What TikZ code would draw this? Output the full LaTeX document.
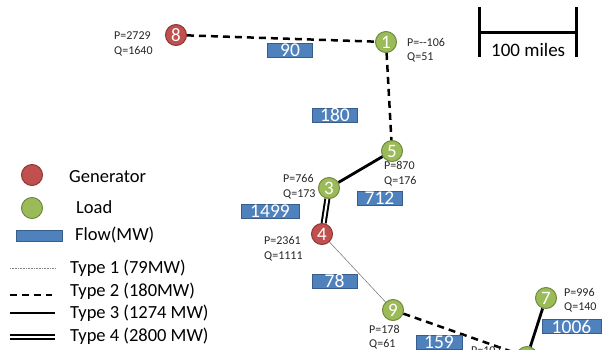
\documentclass[tikz,border=0pt]{standalone}
\usepackage{fontspec}
\setmainfont{Carlito}
\definecolor{genfill}{HTML}{C0504D}
\definecolor{gendraw}{HTML}{8C3836}
\definecolor{loadfill}{HTML}{9BBB59}
\definecolor{loaddraw}{HTML}{71893F}
\definecolor{flowfill}{HTML}{4F81BD}
\definecolor{flowdraw}{HTML}{385D8A}
\tikzset{
  bus/.style={circle, line width=1pt, minimum size=21pt, inner sep=0pt, text=white, font=\fontsize{19}{19}\selectfont},
  gen/.style={bus, fill=genfill, draw=gendraw},
  load/.style={bus, fill=loadfill, draw=loaddraw},
  flow/.style={rectangle, fill=flowfill, draw=flowdraw, line width=0.8pt, text=white, inner sep=0pt, minimum height=14pt, minimum width=#1, font=\fontsize{19.5}{19.5}\selectfont},
  flow/.default=45pt,
  lbl/.style={anchor=base west, inner sep=0pt, font=\fontsize{12}{12}\selectfont, text=black!85},
  leg/.style={anchor=base west, inner sep=0pt, font=\fontsize{18.5}{18.5}\selectfont},
  typeone/.style={draw=gray, line width=0.6pt},
  typetwo/.style={draw=black, line width=2.5pt, dash pattern=on 7pt off 5pt},
  typethree/.style={draw=black, line width=2.8pt},
  typefour/.style={draw=black, line width=2pt, double=white, double distance=2pt},
}
\begin{document}
\begin{tikzpicture}[x=1pt,y=-1pt]
\useasboundingbox (0,0) rectangle (611,349);
\clip (0,0) rectangle (611,349);
% buses
\node[gen] (n8) at (176,35) {8};
\node[load] (n1) at (386,42) {1};
\node[load] (n5) at (392,151) {5};
\node[load] (n3) at (329,188) {3};
\node[gen] (n4) at (322,234) {4};
\node[load] (n9) at (393,310) {9};
\node[load] (n7) at (546,298) {7};
\node[load] (n6) at (527,357) {};
% lines
\draw[typetwo] (n8) -- (n1);
\draw[typetwo] (n1) -- (n5);
\draw[typethree] (n5) -- (n3);
\draw[typefour] (n3) -- (n4);
\draw[typeone] (n4) -- (n9);
\draw[typetwo] (n9) -- (n6);
\draw[typethree] (n7) -- (n6);
% flows
\node[flow] (f90) at (290,50) {90};
\node[flow] (f180) at (335,115) {180};
\node[flow] (f712) at (379.5,198.5) {712};
\node[flow=58pt] (f1499) at (270,211) {1499};
\node[flow] (f78) at (334.5,281) {78};
\node[flow=46pt] (f159) at (439,342) {159};
\node[flow=59pt] (f1006) at (571.5,326.5) {1006};
% P/Q labels
\node[lbl] (p8) at (114,39.5) {P=2729};
\node[lbl] (q8) at (114,54.5) {Q=1640};
\node[lbl] (p1) at (407,46) {P=-{}-106};
\node[lbl] (q1) at (407,60.5) {Q=51};
\node[lbl] (p5) at (384,169) {P=870};
\node[lbl] (q5) at (384,184) {Q=176};
\node[lbl] (p3) at (283,182) {P=766};
\node[lbl] (q3) at (283,197) {Q=173};
\node[lbl] (p4) at (264,244) {P=2361};
\node[lbl] (q4) at (264,259) {Q=1111};
\node[lbl] (p9) at (369,333) {P=178};
\node[lbl] (q9) at (369,347.5) {Q=61};
\node[lbl] (p7) at (564,296) {P=996};
\node[lbl] (q7) at (564,310.5) {Q=140};
\node[lbl] (p6) at (471,354) {P=107};
% scale bar
\coordinate (sbl1) at (479,7);
\coordinate (sbl2) at (479,57);
\coordinate (sbr1) at (576,7);
\coordinate (sbr2) at (576,57);
\coordinate (sbm1) at (479,32);
\coordinate (sbm2) at (576,32);
\draw[line width=3pt] (sbl1) -- (sbl2);
\draw[line width=3pt] (sbr1) -- (sbr2);
\draw[line width=3pt] (sbm1) -- (sbm2);
\node[anchor=base west, inner sep=0pt, font=\fontsize{19}{19}\selectfont] (miles) at (491,56.5) {100 miles};
% legend
\node[gen] (lg) at (32,175) {};
\node[leg] (lgt) at (69,182) {Generator};
\node[load] (ll) at (32,208) {};
\node[leg] (llt) at (76,213) {Load};
\node[flow=46pt, minimum height=11pt] (lf) at (39,235.5) {};
\node[leg] (lft) at (75,240) {Flow(MW)};
\coordinate (t1a) at (10,268); \coordinate (t1b) at (56,268);
\coordinate (t2a) at (10,295); \coordinate (t2b) at (52,295);
\coordinate (t3a) at (10,313); \coordinate (t3b) at (55,313);
\coordinate (t4a) at (10,337); \coordinate (t4b) at (55,337);
\draw[gray, line width=0.6pt, dash pattern=on 1pt off 0.6pt] (t1a) -- (t1b);
\draw[typetwo] (t2a) -- (t2b);
\draw[typethree] (t3a) -- (t3b);
\draw[typefour] (t4a) -- (t4b);
\node[leg] (t1) at (70,273) {Type 1 (79MW)};
\node[leg] (t2) at (70,296.5) {Type 2 (180MW)};
\node[leg] (t3) at (70,318) {Type 3 (1274 MW)};
\node[leg] (t4) at (70,341.5) {Type 4 (2800 MW)};
\end{tikzpicture}
\end{document}
